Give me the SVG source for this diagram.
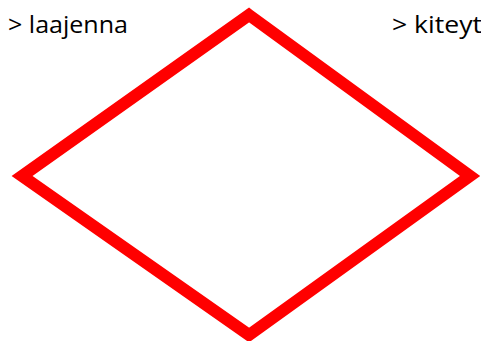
<svg xmlns="http://www.w3.org/2000/svg" width="481" height="341" viewBox="0 0 481 341">
<style>
.lbl{font-family:"Open Sans","Liberation Sans",Arial,sans-serif;font-size:23px;fill:#000}
.shape{fill:none;stroke:#ff0000;stroke-width:12;stroke-linejoin:miter}
</style>
<rect width="481" height="341" fill="#fff"/>
<g id="diamond">
<polygon class="shape" points="249,15 470,176 249,335 22,176"/>
</g>
<g id="label-laajenna"><text class="lbl" x="8" y="33" textLength="120" lengthAdjust="spacingAndGlyphs">&gt; laajenna</text></g>
<g id="label-kiteyt"><text class="lbl" x="392" y="33" textLength="90" lengthAdjust="spacingAndGlyphs">&gt; kiteyt</text></g>
<g id="connectors"></g>
</svg>
